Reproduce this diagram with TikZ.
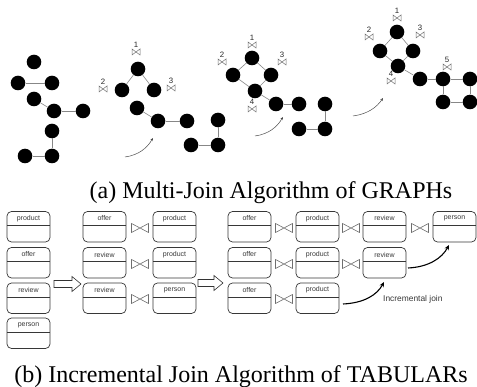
\documentclass[tikz,border=0pt]{standalone}
\usepackage{fontspec}
\setmainfont{Liberation Serif}
\newfontfamily\labfont{Liberation Sans}
\usetikzlibrary{calc,arrows.meta}
\definecolor{edgegray}{RGB}{135,135,135}
\definecolor{boxgray}{RGB}{55,55,55}
\definecolor{btgray}{RGB}{110,110,110}
\tikzset{
  gnode/.style={circle, fill=black, inner sep=0pt, minimum size=14.6pt},
  gedge/.style={draw=edgegray, line width=0.6pt},
  tbox/.style={draw=boxgray, rounded corners=4.5pt, minimum width=43pt, minimum height=30.5pt, inner sep=0pt, outer sep=0pt, line width=0.7pt},
  tline/.style={draw=boxgray, line width=0.7pt},
  ttext/.style={font=\labfont\fontsize{7}{8}\selectfont, text=boxgray, inner sep=0pt},
  btbig/.style={draw=btgray, line width=0.6pt},
  btsmall/.style={draw=btgray, line width=0.5pt},
  numtext/.style={font=\labfont\fontsize{7.8}{9}\selectfont, text=black!85, inner sep=0pt},
  garrow/.style={draw=black!70, line width=0.5pt, -{Stealth[length=3pt,width=2.6pt]}},
  tarrow/.style={draw=black, line width=1.1pt, -{Stealth[length=5pt,width=4.5pt]}},
  hollow/.style={draw=black!80, line width=0.6pt, fill=white},
  captext/.style={font=\fontsize{24}{28}\selectfont, inner sep=0pt, anchor=base},
  inctext/.style={font=\labfont\fontsize{8.4}{10}\selectfont, text=boxgray, inner sep=0pt}
}
% bowtie: x, y, half width, half height, style
\newcommand\btie[5]{\draw[#5, shift={(#1,#2)}] (-#3,-#4) -- (#3,#4) -- (#3,-#4) -- (-#3,#4) -- cycle;}
% small join with number: name, x, y, label
\newcommand\jn[4]{\btie{#2}{#3}{4}{3}{btsmall}\node[numtext] (#1) at ({#2},{#3-7.5}) {#4};}
% table: name, x left, y top, text
\newcommand\tbl[4]{%
  \node[tbox, anchor=north west] (#1) at (#2,#3) {};
  \draw[tline] ($(#1.north west)+(0,14)$) -- ($(#1.north east)+(0,14)$);
  \node[ttext] (#1t) at ($(#1.north)+(0,7)$) {#4};}
\begin{document}
\begin{tikzpicture}[x=1pt,y=-1pt]
\useasboundingbox (0,0) rectangle (477,387);
% ---------- panel 1
\node[gnode] (a1) at (34,62) {};
\node[gnode] (a2) at (18,83) {};
\node[gnode] (a3) at (52,83) {};
\node[gnode] (a4) at (34,99) {};
\node[gnode] (a5) at (54,111) {};
\node[gnode] (a6) at (83,111) {};
\node[gnode] (a7) at (52,131) {};
\node[gnode] (a8) at (25,156) {};
\node[gnode] (a9) at (52,156) {};
\draw[gedge] (a2) -- (a3);
\draw[gedge] (a4) -- (a5);
\draw[gedge] (a5) -- (a6);
\draw[gedge] (a7) -- (a9);
\draw[gedge] (a8) -- (a9);
% ---------- panel 2
\node[gnode] (b1) at (138,69) {};
\node[gnode] (b2) at (122,90) {};
\node[gnode] (b3) at (154,90) {};
\node[gnode] (b4) at (137,108) {};
\node[gnode] (b5) at (158,121) {};
\node[gnode] (b6) at (187,121) {};
\node[gnode] (b7) at (218,120) {};
\node[gnode] (b8) at (191,145) {};
\node[gnode] (b9) at (218,145) {};
\draw[gedge] (b1) -- (b2);
\draw[gedge] (b1) -- (b3);
\draw[gedge] (b4) -- (b5);
\draw[gedge] (b5) -- (b6);
\draw[gedge] (b7) -- (b9);
\draw[gedge] (b8) -- (b9);
\jn{jb1}{136}{52}{1}
\jn{jb2}{103}{89}{2}
\jn{jb3}{171}{88}{3}
\coordinate (gs1) at (125,157);
\coordinate (ge1) at (153,138);
\draw[garrow] (gs1) .. controls (139,155) and (147,148) .. (ge1);
% ---------- panel 3
\node[gnode] (c1) at (252,58) {};
\node[gnode] (c2) at (233,75) {};
\node[gnode] (c3) at (271,75) {};
\node[gnode] (c4) at (255,91) {};
\node[gnode] (c5) at (276,104) {};
\node[gnode] (c6) at (299,104) {};
\node[gnode] (c7) at (325,104) {};
\node[gnode] (c8) at (299,129) {};
\node[gnode] (c9) at (325,129) {};
\draw[gedge] (c1) -- (c2);
\draw[gedge] (c1) -- (c3);
\draw[gedge] (c2) -- (c4);
\draw[gedge] (c3) -- (c4);
\draw[gedge] (c4) -- (c5);
\draw[gedge] (c5) -- (c6);
\draw[gedge] (c7) -- (c9);
\draw[gedge] (c8) -- (c9);
\jn{jc1}{252}{45}{1}
\jn{jc2}{222}{62}{2}
\jn{jc3}{282}{62}{3}
\jn{jc4}{252}{109}{4}
\coordinate (gs2) at (255,136);
\coordinate (ge2) at (283,117);
\draw[garrow] (gs2) .. controls (269,134) and (277,127) .. (ge2);
% ---------- panel 4
\node[gnode] (d1) at (397,32) {};
\node[gnode] (d2) at (380,51) {};
\node[gnode] (d3) at (413,51) {};
\node[gnode] (d4) at (398,66) {};
\node[gnode] (d5) at (420,79) {};
\node[gnode] (d6) at (443,79) {};
\node[gnode] (d7) at (470,79) {};
\node[gnode] (d8) at (443,102) {};
\node[gnode] (d9) at (470,102) {};
\draw[gedge] (d1) -- (d2);
\draw[gedge] (d1) -- (d3);
\draw[gedge] (d2) -- (d4);
\draw[gedge] (d3) -- (d4);
\draw[gedge] (d4) -- (d5);
\draw[gedge] (d5) -- (d6);
\draw[gedge] (d6) -- (d7);
\draw[gedge] (d6) -- (d8);
\draw[gedge] (d7) -- (d9);
\draw[gedge] (d8) -- (d9);
\jn{jd1}{397}{18}{1}
\jn{jd2}{369}{37}{2}
\jn{jd3}{420}{35}{3}
\jn{jd4}{391}{81}{4}
\jn{jd5}{447}{67}{5}
\coordinate (gs3) at (353,116);
\coordinate (ge3) at (383,98);
\draw[garrow] (gs3) .. controls (368,114) and (377,107) .. (ge3);
% ---------- caption a
\node[captext] (capa) at (271,199) {(a) Multi-Join Algorithm of GRAPHs};
% ---------- tables
\tbl{t11}{7}{211.5}{product}
\tbl{t12}{7}{247.5}{offer}
\tbl{t13}{7}{283}{review}
\tbl{t14}{7}{318}{person}
\tbl{t21}{83}{211.5}{offer}
\tbl{t22}{83}{247.5}{review}
\tbl{t23}{83}{283}{review}
\tbl{t31}{153}{211.5}{product}
\tbl{t32}{153}{247.5}{product}
\tbl{t33}{153}{283}{person}
\tbl{tA1}{228}{211.5}{offer}
\tbl{tA2}{228}{247.5}{offer}
\tbl{tA3}{228}{283}{offer}
\tbl{tB1}{296}{211.5}{product}
\tbl{tB2}{296}{247.5}{product}
\tbl{tB3}{296}{283}{product}
\tbl{tC1}{363}{211.5}{review}
\tbl{tC2}{363}{247.5}{review}
\tbl{tD1}{433}{211.5}{person}
% joins
\btie{140}{228}{8.5}{4.5}{btbig}
\btie{140}{264}{8.5}{4.5}{btbig}
\btie{140}{299}{8.5}{4.5}{btbig}
\btie{284}{228}{8.5}{4.5}{btbig}
\btie{284}{264}{8.5}{4.5}{btbig}
\btie{284}{299}{8.5}{4.5}{btbig}
\btie{351}{228}{8.5}{4.5}{btbig}
\btie{351}{264}{8.5}{4.5}{btbig}
\btie{420}{228}{8.5}{4.5}{btbig}
% hollow arrows
\draw[hollow, shift={(54,284)}] (0,-3.5) -- (18,-3.5) -- (18,-7.5) -- (27,0) -- (18,7.5) -- (18,3.5) -- (0,3.5) -- cycle;
\draw[hollow, shift={(198,283)}] (0,-3.5) -- (16,-3.5) -- (16,-7.5) -- (25,0) -- (16,7.5) -- (16,3.5) -- (0,3.5) -- cycle;
% incremental arrows
\coordinate (ts1) at (343,304);
\coordinate (te1) at (384,282);
\draw[tarrow] (ts1) .. controls (364,303) and (377,295) .. (te1);
\coordinate (ts2) at (408,268);
\coordinate (te2) at (449,245);
\draw[tarrow] (ts2) .. controls (429,267) and (442,258) .. (te2);
\node[inctext, anchor=west] (inc) at (383,299) {Incremental join};
% ---------- caption b
\node[captext] (capb) at (241,383) {(b) Incremental Join Algorithm of TABULARs};
\end{tikzpicture}
\end{document}
